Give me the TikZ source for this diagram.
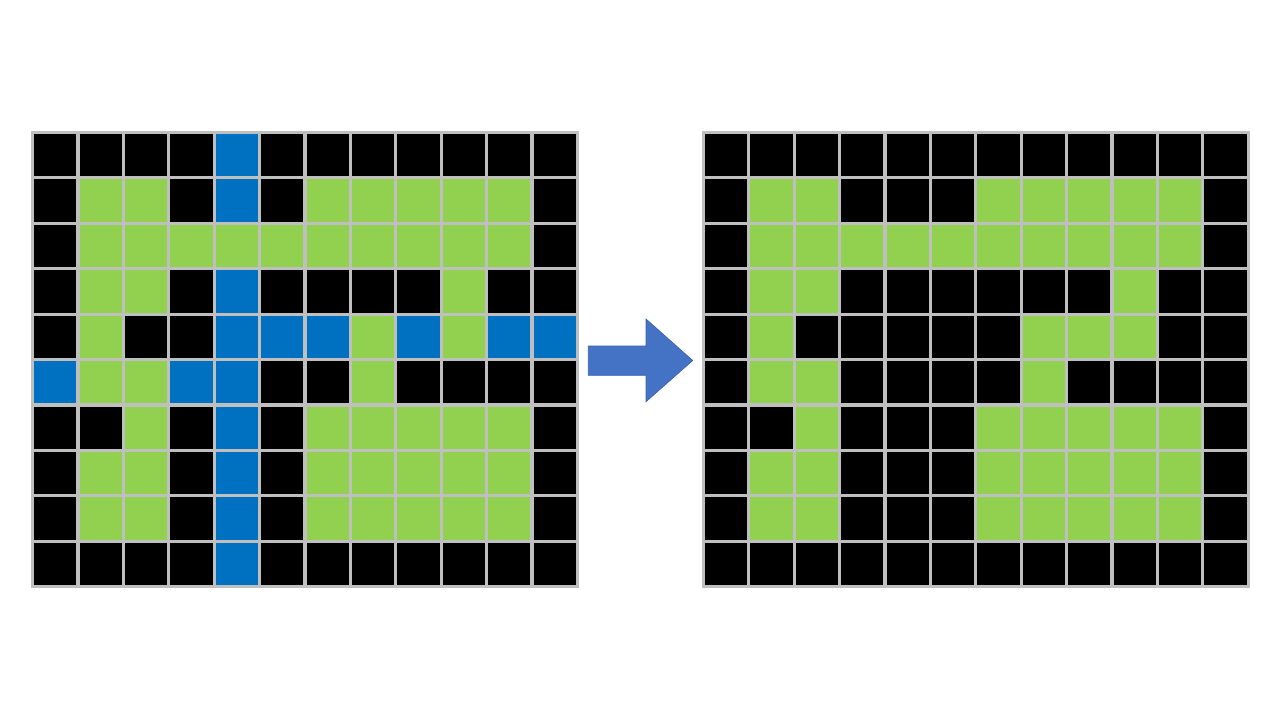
\documentclass[tikz,border=0pt]{standalone}
\definecolor{cK}{HTML}{000000}
\definecolor{cG}{HTML}{92D050}
\definecolor{cB}{HTML}{0070C0}
\definecolor{gridgray}{HTML}{BFBFBF}
\definecolor{arrowblue}{HTML}{4472C4}
\definecolor{arrowedge}{HTML}{3A62AE}
\tikzset{
  gridline/.style={draw=gridgray,line width=2.4pt,line cap=rect},
  bigarrow/.style={fill=arrowblue,draw=arrowedge,line width=0.5pt,line join=miter}
}
\newcommand\drawboard[3]{%
  \foreach \row [count=\r from 0] in {#3} {
    \foreach \c [count=\i from 0] in \row {
      \fill[fill=c\c] ({#1+\i*45.4},{#2+\r*45.4}) rectangle ++(45.4,45.4);
    }
  }
  \foreach \k in {0,...,12} \draw[gridline] ({#1+\k*45.4},#2) -- ++(0,454);
  \foreach \k in {0,...,10} \draw[gridline] (#1,{#2+\k*45.4}) -- ++(544.8,0);
}
\begin{document}
\begin{tikzpicture}[x=0.75pt,y=-0.75pt]
\useasboundingbox[fill=white] (0,0) rectangle (1280,720);
% left board
\drawboard{32.5}{132.5}{
 {K,K,K,K,B,K,K,K,K,K,K,K},
 {K,G,G,K,B,K,G,G,G,G,G,K},
 {K,G,G,G,G,G,G,G,G,G,G,K},
 {K,G,G,K,B,K,K,K,K,G,K,K},
 {K,G,K,K,B,B,B,G,B,G,B,B},
 {B,G,G,B,B,K,K,G,K,K,K,K},
 {K,K,G,K,B,K,G,G,G,G,G,K},
 {K,G,G,K,B,K,G,G,G,G,G,K},
 {K,G,G,K,B,K,G,G,G,G,G,K},
 {K,K,K,K,B,K,K,K,K,K,K,K}}
% right board
\drawboard{703.3}{132.5}{
 {K,K,K,K,K,K,K,K,K,K,K,K},
 {K,G,G,K,K,K,G,G,G,G,G,K},
 {K,G,G,G,G,G,G,G,G,G,G,K},
 {K,G,G,K,K,K,K,K,K,G,K,K},
 {K,G,K,K,K,K,K,G,G,G,K,K},
 {K,G,G,K,K,K,K,G,K,K,K,K},
 {K,K,G,K,K,K,G,G,G,G,G,K},
 {K,G,G,K,K,K,G,G,G,G,G,K},
 {K,G,G,K,K,K,G,G,G,G,G,K},
 {K,K,K,K,K,K,K,K,K,K,K,K}}
% arrow
\draw[bigarrow] (588.3,346) -- (646,346) -- (646,319) -- (692.7,360.5)
  -- (646,401.7) -- (646,375.3) -- (588.3,375.3) -- cycle;
\end{tikzpicture}
\end{document}
